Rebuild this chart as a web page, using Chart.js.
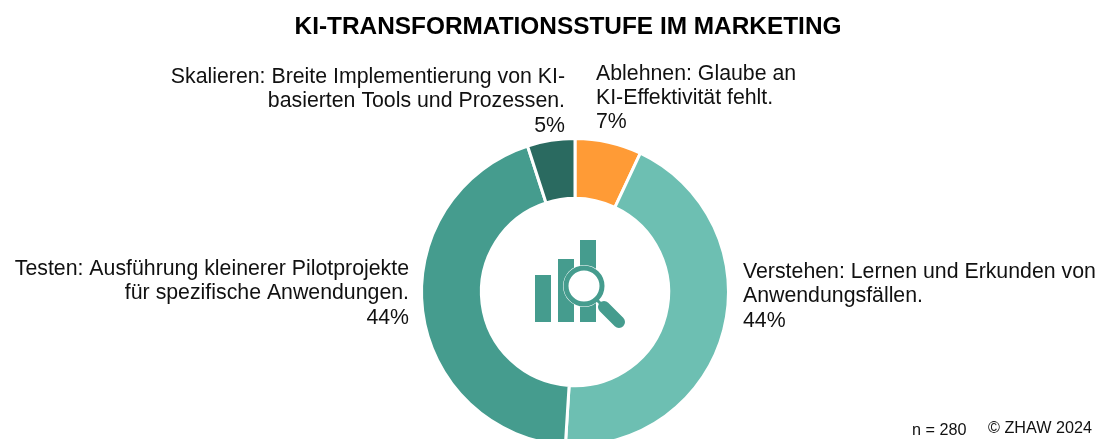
<!DOCTYPE html>
<html lang="de">
<head>
<meta charset="utf-8">
<title>KI-Transformationsstufe im Marketing</title>
<script src="https://cdn.jsdelivr.net/npm/chart.js@4/dist/chart.umd.min.js"></script>
<style>
  html, body { margin: 0; padding: 0; background: #fff; overflow: hidden; }
  #wrap { position: relative; width: 1101px; height: 439px; overflow: hidden; }
  #wrap canvas { position: absolute; left: 0; top: 0; }
</style>
</head>
<body>
<div id="wrap"><canvas id="stageChart" width="1101" height="475"></canvas></div>
<script>
const chartTitle = 'KI-TRANSFORMATIONSSTUFE IM MARKETING';
const categories = ['Ablehnen', 'Verstehen', 'Testen', 'Skalieren'];
const shares = [7, 44, 44, 5];
const sliceColors = ['#FF9B36', '#6DBFB2', '#459C8E', '#2A6A60'];
const labelLines = [
    ['Ablehnen: Glaube an', 'KI-Effektivität fehlt.', '7%'],
    ['Verstehen: Lernen und Erkunden von', 'Anwendungsfällen.', '44%'],
    ['Testen: Ausführung kleinerer Pilotprojekte', 'für spezifische Anwendungen.', '44%'],
    ['Skalieren: Breite Implementierung von KI-', 'basierten Tools und Prozessen.', '5%']
];
const sampleNote = 'n = 280';
const copyrightNote = '© ZHAW 2024';

// where each label block sits: anchor x, first baseline, text alignment
const labelAnchors = [
    { x: 596, y: 79.5, align: 'left' },
    { x: 743, y: 278, align: 'left' },
    { x: 409, y: 275, align: 'right' },
    { x: 565, y: 83, align: 'right' }
];

const teal = '#459C8E';

function drawIcon(ctx, cx, cy) {
    ctx.save();
    ctx.translate(cx, cy);
    ctx.fillStyle = teal;
    ctx.fillRect(-40, -17, 16, 47);
    ctx.fillRect(-17, -33, 16, 63);
    ctx.fillRect(5, -52, 16, 82);

    // lens
    ctx.beginPath();
    ctx.arc(9, -6, 21, 0, Math.PI * 2);
    ctx.fillStyle = '#fff';
    ctx.fill();
    ctx.beginPath();
    ctx.arc(9, -6, 18, 0, Math.PI * 2);
    ctx.lineWidth = 5;
    ctx.strokeStyle = teal;
    ctx.stroke();

    // handle
    ctx.lineCap = 'butt';
    ctx.lineWidth = 3;
    ctx.beginPath();
    ctx.moveTo(21, 7);
    ctx.lineTo(31, 17);
    ctx.stroke();
    ctx.lineCap = 'round';
    ctx.lineWidth = 12;
    ctx.beginPath();
    ctx.moveTo(29, 15);
    ctx.lineTo(44, 30);
    ctx.stroke();
    ctx.restore();
}

const textPlugin = {
    id: 'textPlugin',
    afterDraw(chart) {
        const ctx = chart.ctx;
        const arc = chart.getDatasetMeta(0).data[0];
        ctx.save();
        ctx.fillStyle = '#000';
        ctx.textBaseline = 'alphabetic';

        ctx.font = 'bold 24.4px "Liberation Sans", Arial, sans-serif';
        ctx.textAlign = 'center';
        ctx.fillText(chartTitle, 568, 33.5);

        ctx.fillStyle = '#111';
        ctx.font = '21.3px "Liberation Sans", Arial, sans-serif';
        labelLines.forEach((lines, i) => {
            const a = labelAnchors[i];
            ctx.textAlign = a.align;
            lines.forEach((line, j) => ctx.fillText(line, a.x, a.y + j * 24.3));
        });

        ctx.textAlign = 'left';
        ctx.font = '16.2px "Liberation Sans", Arial, sans-serif';
        ctx.fillText(sampleNote, 912, 435);
        ctx.fillText(copyrightNote, 988, 433);
        ctx.restore();

        drawIcon(ctx, arc.x, arc.y);
    }
};

new Chart(document.getElementById('stageChart'), {
    type: 'doughnut',
    data: {
        labels: categories,
        datasets: [{
            data: shares,
            backgroundColor: sliceColors,
            borderColor: '#fff',
            borderWidth: 3
        }]
    },
    options: {
        responsive: false,
        animation: false,
        cutout: '61%',
        layout: { padding: { top: 137, bottom: 28, left: 49, right: 0 } },
        plugins: {
            legend: { display: false },
            tooltip: { enabled: false }
        }
    },
    plugins: [textPlugin]
});
</script>
</body>
</html>
